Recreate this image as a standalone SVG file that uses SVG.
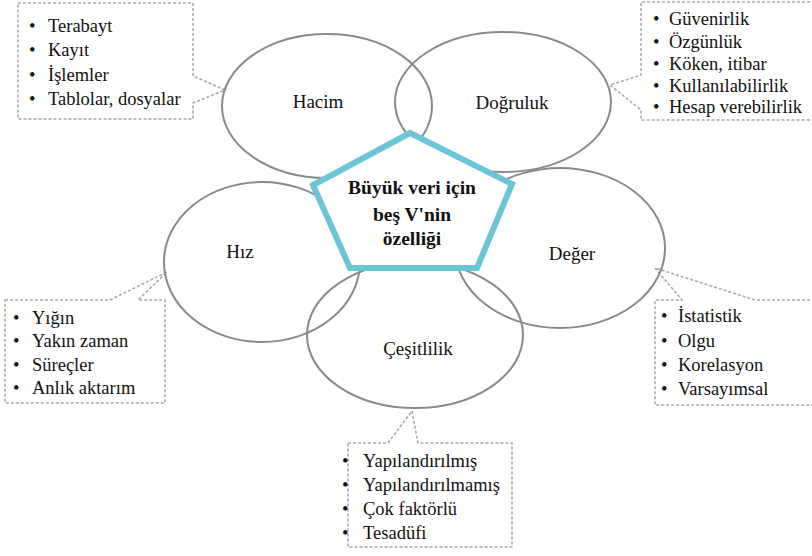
<svg xmlns="http://www.w3.org/2000/svg" width="812" height="556" viewBox="0 0 812 556">
<style>
  .ell { fill: none; stroke: #8a8a8a; stroke-width: 2; }
  .call { fill: #fff; stroke: #a8a8a8; stroke-width: 1.6; stroke-dasharray: 3 2; }
  text { font-family: 'Liberation Serif', 'DejaVu Serif', 'Noto Serif', serif; fill: #111; }
  .lbl { font-size: 19px; text-anchor: middle; }
  .li text { font-size: 18.5px; }
  .ctr { font-size: 19.5px; font-weight: bold; text-anchor: middle; }
  .penta { fill: #fff; stroke: #6cc5d6; stroke-width: 6; stroke-linejoin: miter; }
</style>
<rect width="812" height="556" fill="#fff"/>
<g id="connectors">
  <path class="call" d="M18,3 H193 V76 L225,90 L193,103 V119 H18 Z"/>
  <path class="call" d="M815,2 H641 V75 L610,85 L641,110 V120 H815"/>
  <path class="call" d="M5,300 H110 L167,272 L138,300 H165 V403 H5 Z"/>
  <path class="call" d="M815,300 H755 L655,268 L682,300 H655 V405 H815"/>
  <path class="call" d="M348,443 H388 L412,411 L418,443 H512 V547 H348 Z"/>
</g>
<g id="hacim">
  <ellipse class="ell" cx="327" cy="106" rx="105" ry="72"/>
  <text class="lbl" x="318" y="108">Hacim</text>
</g>
<g id="dogruluk">
  <ellipse class="ell" cx="503" cy="102" rx="108" ry="70"/>
  <text class="lbl" x="512" y="109">Doğruluk</text>
</g>
<g id="hiz">
  <ellipse class="ell" cx="262" cy="262" rx="98" ry="80"/>
  <text class="lbl" x="240" y="258">Hız</text>
</g>
<g id="deger">
  <ellipse class="ell" cx="560" cy="248" rx="105" ry="80"/>
  <text class="lbl" x="572" y="260">Değer</text>
</g>
<g id="cesitlilik">
  <ellipse class="ell" cx="415" cy="335" rx="108" ry="73"/>
  <text class="lbl" x="418" y="355">Çeşitlilik</text>
</g>
<g id="center">
  <polygon class="penta" points="410,133 512,184 477,268 350,268 313,185"/>
  <text class="ctr" x="412" y="194">Büyük veri için</text>
  <text class="ctr" x="412" y="221">beş V'nin</text>
  <text class="ctr" x="412" y="245">özelliği</text>
</g>
<g id="list-hacim" class="li">
  <text x="29" y="32">•</text><text x="48" y="32">Terabayt</text>
  <text x="29" y="56">•</text><text x="48" y="56">Kayıt</text>
  <text x="29" y="81">•</text><text x="48" y="81">İşlemler</text>
  <text x="29" y="105">•</text><text x="48" y="105">Tablolar, dosyalar</text>
</g>
<g id="list-dogruluk" class="li">
  <text x="653" y="25">•</text><text x="669" y="25">Güvenirlik</text>
  <text x="653" y="48">•</text><text x="669" y="48">Özgünlük</text>
  <text x="653" y="70">•</text><text x="669" y="70">Köken, itibar</text>
  <text x="653" y="92">•</text><text x="669" y="92">Kullanılabilirlik</text>
  <text x="653" y="113">•</text><text x="669" y="113">Hesap verebilirlik</text>
</g>
<g id="list-hiz" class="li">
  <text x="13" y="324">•</text><text x="32" y="324">Yığın</text>
  <text x="13" y="347">•</text><text x="32" y="347">Yakın zaman</text>
  <text x="13" y="371">•</text><text x="32" y="371">Süreçler</text>
  <text x="13" y="394">•</text><text x="32" y="394">Anlık aktarım</text>
</g>
<g id="list-deger" class="li">
  <text x="661" y="322">•</text><text x="678" y="322">İstatistik</text>
  <text x="661" y="347">•</text><text x="678" y="347">Olgu</text>
  <text x="661" y="371">•</text><text x="678" y="371">Korelasyon</text>
  <text x="661" y="395">•</text><text x="678" y="395">Varsayımsal</text>
</g>
<g id="list-cesitlilik" class="li">
  <text x="342" y="467">•</text><text x="363" y="467">Yapılandırılmış</text>
  <text x="342" y="491">•</text><text x="363" y="491">Yapılandırılmamış</text>
  <text x="342" y="515">•</text><text x="363" y="515">Çok faktörlü</text>
  <text x="342" y="539">•</text><text x="363" y="539">Tesadüfi</text>
</g>
</svg>
